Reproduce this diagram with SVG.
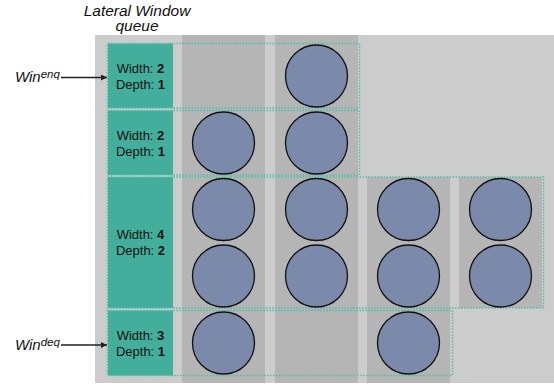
<svg xmlns="http://www.w3.org/2000/svg" width="554" height="386" viewBox="0 0 554 386">
<style>
.bg{fill:#cccccc}
.col{fill:#b5b5b5}
.teal{fill:#43ae9b}
.dot{fill:none;stroke:#4dbfa8;stroke-width:1.5;stroke-dasharray:1.5 1.5}
.c{fill:#7b8aab;stroke:#111;stroke-width:1.3}
.lbl{font-family:"Liberation Sans",Arial,sans-serif;font-size:13px;fill:#111;text-anchor:middle}
.lbl tspan.b{font-weight:bold}
.it{font-family:"Liberation Sans",Arial,sans-serif;font-style:italic;fill:#111}
.arr{stroke:#222;stroke-width:1.3;fill:none}
</style>
<defs>
<marker id="ah" viewBox="0 0 10 10" refX="10" refY="5" markerWidth="6" markerHeight="6" markerUnits="userSpaceOnUse" orient="auto">
<path d="M0,0 L10,5 L0,10 z" fill="#222"/>
</marker>
</defs>
<g id="background">
<rect class="bg" x="95" y="35" width="459" height="348"/>
<rect class="col" x="182" y="35" width="83" height="348"/>
<rect class="col" x="275" y="35" width="83" height="348"/>
<rect class="col" x="367" y="177" width="83" height="206"/>
<rect class="col" x="459" y="177" width="83" height="131"/>
</g>
<text class="it" x="137" y="16" font-size="15.5" text-anchor="middle">Lateral Window</text>
<text class="it" x="137" y="31" font-size="15.5" text-anchor="middle">queue</text>
<g id="row1">
<rect class="teal" x="108" y="43.5" width="65" height="64.5"/>
<rect class="dot" x="107.5" y="43.5" width="252" height="64.5"/>
<text class="lbl" x="140.5" y="72.5">Width: <tspan class="b">2</tspan></text>
<text class="lbl" x="140.5" y="88.5">Depth: <tspan class="b">1</tspan></text>
<circle class="c" cx="316.5" cy="76" r="31"/>
</g>
<g id="row2">
<rect class="teal" x="108" y="110.5" width="65" height="64.5"/>
<rect class="dot" x="107.5" y="110.5" width="252" height="64.5"/>
<text class="lbl" x="140.5" y="139.5">Width: <tspan class="b">2</tspan></text>
<text class="lbl" x="140.5" y="155.5">Depth: <tspan class="b">1</tspan></text>
<circle class="c" cx="223.5" cy="143" r="31"/>
<circle class="c" cx="316.5" cy="143" r="31"/>
</g>
<g id="row3">
<rect class="teal" x="108" y="177" width="65" height="131"/>
<rect class="dot" x="107.5" y="177" width="436" height="131"/>
<text class="lbl" x="140.5" y="239">Width: <tspan class="b">4</tspan></text>
<text class="lbl" x="140.5" y="255">Depth: <tspan class="b">2</tspan></text>
<circle class="c" cx="223.5" cy="209.5" r="31"/>
<circle class="c" cx="316.5" cy="209.5" r="31"/>
<circle class="c" cx="408.5" cy="209.5" r="31"/>
<circle class="c" cx="500.5" cy="209.5" r="31"/>
<circle class="c" cx="223.5" cy="276" r="31"/>
<circle class="c" cx="316.5" cy="276" r="31"/>
<circle class="c" cx="408.5" cy="276" r="31"/>
<circle class="c" cx="500.5" cy="276" r="31"/>
</g>
<g id="row4">
<rect class="teal" x="108" y="310.5" width="65" height="65"/>
<rect class="dot" x="107.5" y="310.5" width="345" height="65"/>
<text class="lbl" x="140.5" y="339.5">Width: <tspan class="b">3</tspan></text>
<text class="lbl" x="140.5" y="355.5">Depth: <tspan class="b">1</tspan></text>
<circle class="c" cx="223.5" cy="343" r="31"/>
<circle class="c" cx="408.5" cy="343" r="31"/>
</g>
<g id="win-enq">
<text class="it" x="15" y="82" font-size="15">Win<tspan font-size="11.5" dy="-4">enq</tspan></text>
</g>
<g id="win-deq">
<text class="it" x="15" y="350" font-size="15">Win<tspan font-size="11.5" dy="-4">deq</tspan></text>
</g>
<g id="connectors">
<line class="arr" x1="61" y1="77.5" x2="107" y2="77.5" marker-end="url(#ah)"/>
<line class="arr" x1="61" y1="345" x2="107" y2="345" marker-end="url(#ah)"/>
</g>
</svg>
